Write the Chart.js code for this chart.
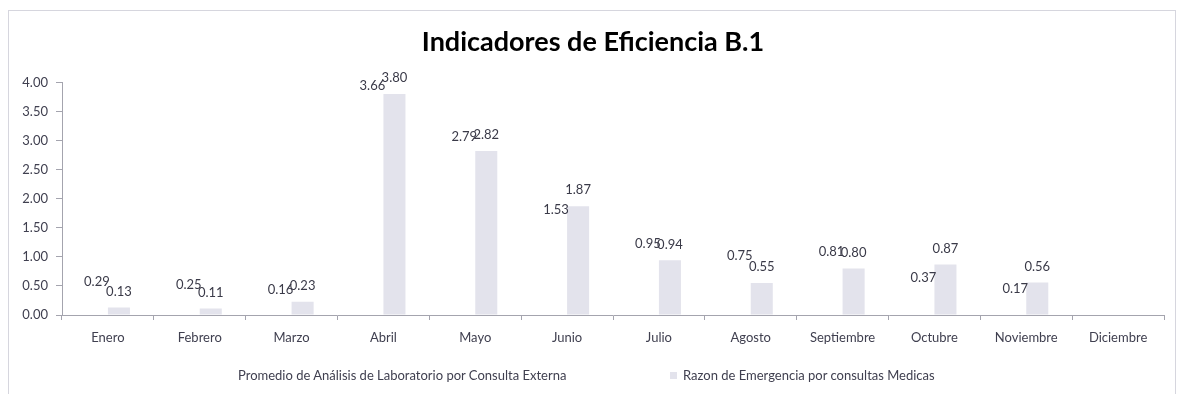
<!DOCTYPE html>
<html>
<head>
<meta charset="utf-8">
<script src="https://cdn.jsdelivr.net/npm/chart.js@4.4.1/dist/chart.umd.min.js"></script>
<style>
  html, body { margin: 0; padding: 0; background: #fff; overflow: hidden; }
  #wrap { position: relative; width: 1182px; height: 394px; }
  #frame { position: absolute; left: 8px; top: 10px; width: 1168px; height: 420px;
           border: 1px solid #d6d6de; box-sizing: border-box; pointer-events: none; }
  #chart { position: absolute; left: 0; top: 0; }
  #legend { position: absolute; left: 0; top: 366px; width: 1182px; height: 18px;
            font: 13px Lato, sans-serif; color: #404050; }
  #legend .item { position: absolute; top: 0; display: flex; align-items: center; white-space: nowrap; height: 18px; }
  #legend .sw { width: 7px; height: 7px; margin-right: 6px; }
</style>
</head>
<body>
<div id="wrap">
  <canvas id="chart" width="1182" height="394"></canvas>
  <div id="frame"></div>
  <div id="legend"></div>
</div>
<script>
const meses = ['Enero', 'Febrero', 'Marzo', 'Abril', 'Mayo', 'Junio', 'Julio',
               'Agosto', 'Septiembre', 'Octubre', 'Noviembre', 'Diciembre'];
const promedioLab = [0.29, 0.25, 0.16, 3.66, 2.79, 1.53, 0.95, 0.75, 0.81, 0.37, 0.17, null];
const razonEmergencia = [0.13, 0.11, 0.23, 3.80, 2.82, 1.87, 0.94, 0.55, 0.80, 0.87, 0.56, null];
const serieNombres = ['Promedio de Análisis de Laboratorio por Consulta Externa',
                      'Razon de Emergencia por consultas Medicas'];
const yMin = 0, yMax = 4, yPaso = 0.5;

const textColor = '#404050';
const axisColor = '#a4a4ae';
const legendLeft = [225, 670];

// value labels above every bar
const etiquetas = {
    id: 'etiquetas',
    afterDatasetsDraw(chart) {
        const ctx = chart.ctx;
        ctx.save();
        ctx.font = '13px Lato, sans-serif';
        ctx.fillStyle = '#3a3a48';
        ctx.textAlign = 'center';
        ctx.textBaseline = 'middle';
        chart.data.datasets.forEach((ds, i) => {
            chart.getDatasetMeta(i).data.forEach((bar, j) => {
                const v = ds.data[j];
                if (v === null || v === undefined) return;
                ctx.fillText(v.toFixed(2), bar.x, bar.y - 16);
            });
        });
        ctx.restore();
    }
};

const chart = new Chart(document.getElementById('chart'), {
    type: 'bar',
    data: {
        labels: meses,
        datasets: [{
            label: serieNombres[0],
            data: promedioLab,
            backgroundColor: 'rgba(255,255,255,0)',
            categoryPercentage: 0.48,
            barPercentage: 1
        }, {
            label: serieNombres[1],
            data: razonEmergencia,
            backgroundColor: '#e3e3ec',
            categoryPercentage: 0.48,
            barPercentage: 1
        }]
    },
    options: {
        responsive: false,
        animation: false,
        layout: { padding: { left: 22, right: 18, top: 0, bottom: 0 } },
        plugins: {
            legend: { display: false },
            tooltip: { enabled: false },
            title: {
                display: true,
                text: 'Indicadores de Eficiencia B.1',
                color: '#000',
                font: { family: 'Lato', size: 27, weight: 'bold' },
                padding: { top: 26, bottom: 24 }
            }
        },
        scales: {
            x: {
                grid: { display: true, drawOnChartArea: false, color: axisColor, tickLength: 5, offset: true },
                border: { color: axisColor },
                ticks: { color: textColor, font: { family: 'Lato', size: 13 }, padding: 10, maxRotation: 0 },
                afterFit(scale) { scale.height = 79; }
            },
            y: {
                min: yMin,
                max: yMax,
                grid: { display: true, drawOnChartArea: false, color: axisColor, tickLength: 6 },
                border: { color: axisColor },
                ticks: {
                    stepSize: yPaso,
                    color: textColor,
                    font: { family: 'Lato', size: 13 },
                    padding: 8,
                    callback: v => v.toFixed(2)
                },
                afterFit(scale) { scale.width = 40; }
            }
        }
    },
    plugins: [etiquetas]
});

// legend built from the chart's own datasets
const legend = document.getElementById('legend');
chart.data.datasets.forEach((ds, i) => {
    const item = document.createElement('div');
    item.className = 'item';
    item.style.left = legendLeft[i] + 'px';
    const sw = document.createElement('span');
    sw.className = 'sw';
    sw.style.background = ds.backgroundColor;
    item.appendChild(sw);
    item.appendChild(document.createTextNode(ds.label));
    legend.appendChild(item);
});
</script>
</body>
</html>
